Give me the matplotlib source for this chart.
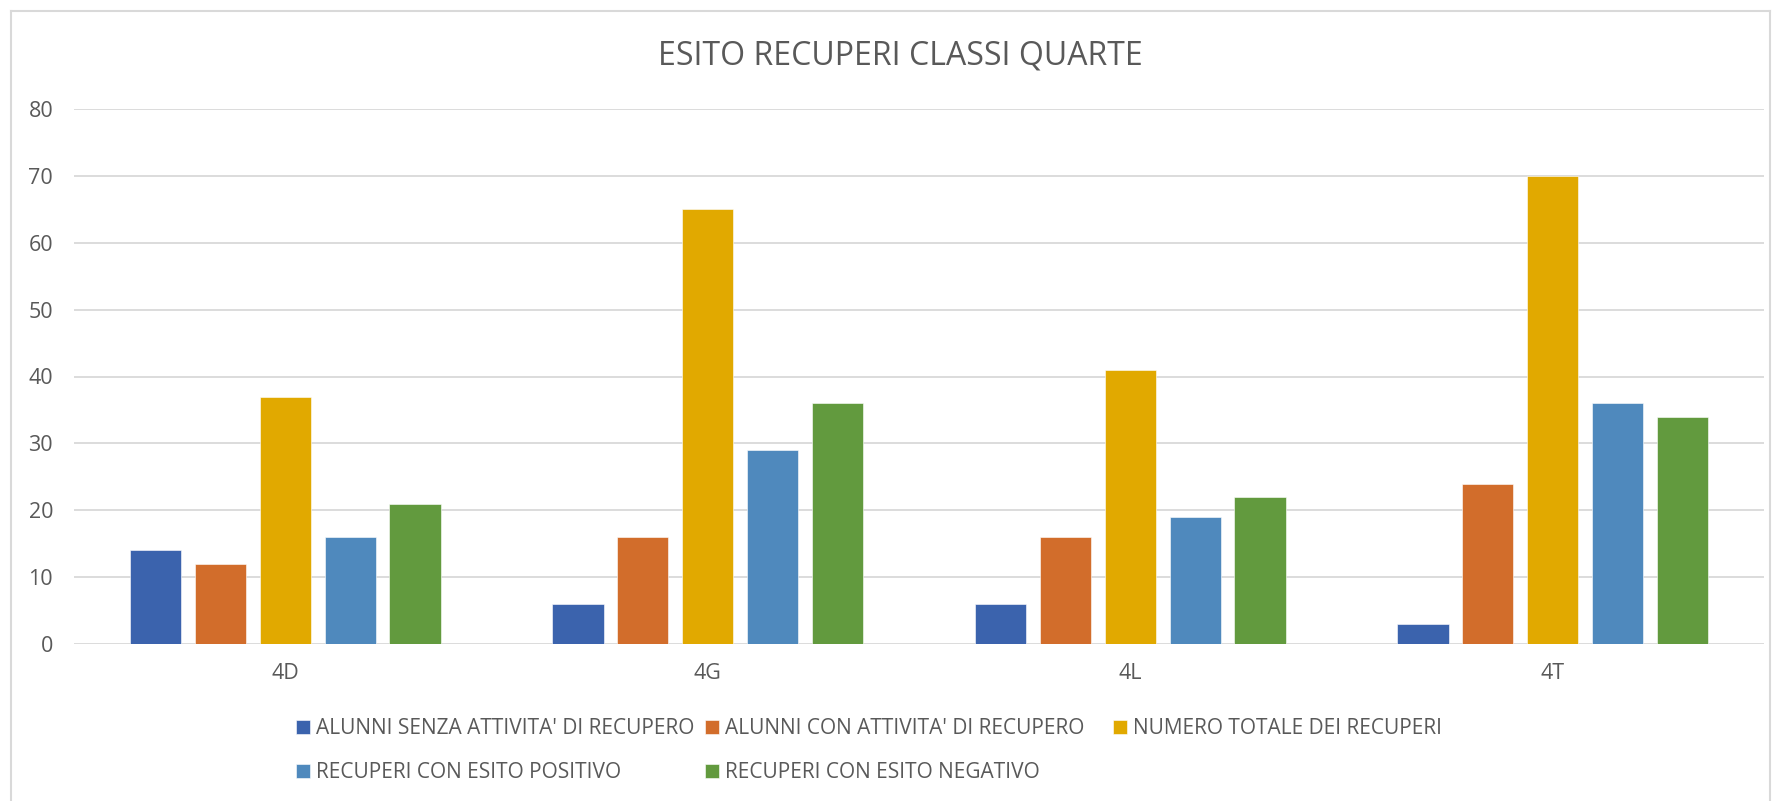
import matplotlib.pyplot as plt
import numpy as np
from matplotlib.lines import Line2D

plt.rcParams['font.family'] = ['Open Sans', 'DejaVu Sans']

classes = ['4D', '4G', '4L', '4T']
series = ["ALUNNI SENZA ATTIVITA' DI RECUPERO",
          "ALUNNI CON ATTIVITA' DI RECUPERO",
          "NUMERO TOTALE DEI RECUPERI",
          "RECUPERI CON ESITO POSITIVO",
          "RECUPERI CON ESITO NEGATIVO"]
senza_attivita = [14, 6, 6, 3]
con_attivita = [12, 16, 16, 24]
totale_recuperi = [37, 65, 41, 70]
esito_positivo = [16, 29, 19, 36]
esito_negativo = [21, 36, 22, 34]
colors = ['#3B63AD', '#D26D2B', '#E1A900', '#4F89BD', '#629A3E']

W, H = 1773, 801
fig = plt.figure(figsize=(W / 100, H / 100), dpi=100)
ax = fig.add_axes([74 / W, 1 - 644 / H, 1690 / W, 535 / H])

values = [senza_attivita, con_attivita, totale_recuperi, esito_positivo, esito_negativo]
x = np.arange(len(classes))
step = 0.1535
bars = []
for i, (vals, c) in enumerate(zip(values, colors)):
    b = ax.bar(x + (i - 2) * step, vals, width=0.121, color=c,
               edgecolor='white', linewidth=0.4, zorder=3)
    bars.append(b)

ax.set_xlim(-0.5, 3.5)
ax.set_ylim(0, 80)
ax.set_yticks(range(0, 81, 10))
ax.set_xticks(x)
ax.set_xticklabels(classes)
ax.grid(axis='y', color='#D9D9D9', linewidth=1.3, zorder=0)
for s in ax.spines.values():
    s.set_visible(False)
ax.tick_params(length=0, colors='#595959', labelsize=15.5)
ax.tick_params(axis='y', pad=15)
ax.tick_params(axis='x', pad=14)

fig.text(900 / W, 1 - 56 / H, 'ESITO RECUPERI CLASSI QUARTE', ha='center', va='center',
         fontsize=23, color='#595959')

# legend entries placed like the Excel flow layout
spots = [(296, 729), (705, 729), (1113, 729), (296, 773), (705, 773)]
for b, name, (lx, ly) in zip(bars, series, spots):
    fig.legend(handles=[b], labels=[name], loc='center left',
               bbox_to_anchor=(lx / W, 1 - ly / H), frameon=False,
               handlelength=0.67, handleheight=0.67, handletextpad=0.3,
               borderpad=0, borderaxespad=0, fontsize=15, labelcolor='#595959')

# chart border
for xs, ys in [([11, 11], [801, 11]), ([11, 1770], [11, 11]), ([1770, 1770], [11, 801])]:
    fig.add_artist(Line2D(np.array(xs) / W, 1 - np.array(ys) / H, color='#D9D9D9', linewidth=1.5))

plt.savefig('out.png')
